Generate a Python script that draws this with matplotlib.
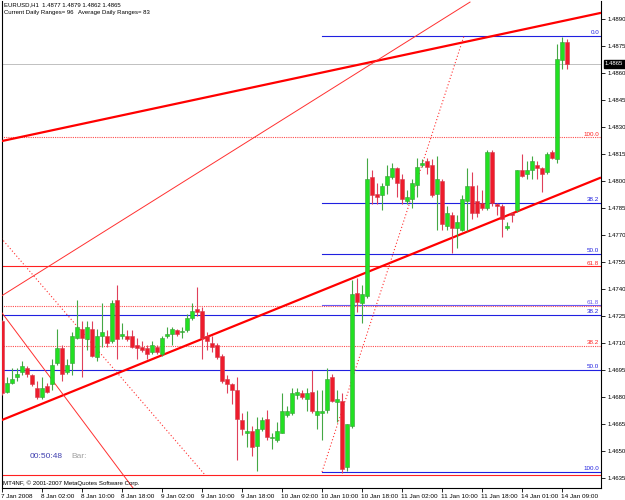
import matplotlib
matplotlib.use("Agg")
import matplotlib.pyplot as plt
import matplotlib.transforms as mtransforms
import numpy as np

# ---------------- data (EURUSD H1) ----------------
opens = [1.4722,1.4683,1.4688,1.4691,1.4694,1.4696,1.4692,1.4685,1.4680,1.4686,
         1.4687,1.4699,1.4707,1.4694,1.4699,1.4713,1.4718,1.4712,1.4718,1.4702,
         1.4714,1.4714,1.4711,1.4734,1.4714,1.4714,1.4714,1.4709,1.4708,1.4707,
         1.4705,1.4708,1.4704,1.4714,1.4715,1.4717,1.4716,1.4717,1.4724,1.4729,
         1.4728,1.4714,1.4710,1.4709,1.4703,1.4690,1.4687,1.4684,1.4667,1.4660,
         1.4661,1.4653,1.4662,1.4668,1.4657,1.4656,1.4660,1.4670,1.4671,1.4681,
         1.4682,1.4679,1.4683,1.4670,1.4671,1.4673,1.4691,1.4677,1.4678,1.4641,
         1.4664,1.4738,1.4732,1.4736,1.4802,1.4793,1.4792,1.4798,1.4802,1.4807,
         1.4801,1.4789,1.4790,1.4798,1.4809,1.4811,1.4809,1.4793,1.4800,1.4775,
         1.4781,1.4774,1.4773,1.4789,1.4797,1.4789,1.4788,1.4785,1.4816,1.4787,
         1.4786,1.4774,1.4782,1.4784,1.4806,1.4804,1.4806,1.4809,1.4807,1.4805,
         1.4816,1.4812,1.4867,1.4877]
highs = [1.4723,1.4691,1.4696,1.4696,1.4700,1.4697,1.4693,1.4689,1.4691,1.4688,
         1.4701,1.4718,1.4709,1.4701,1.4716,1.4734,1.4722,1.4722,1.4722,1.4718,
         1.4732,1.4717,1.4734,1.4742,1.4721,1.4717,1.4717,1.4713,1.4711,1.4709,
         1.4711,1.4709,1.4714,1.4719,1.4719,1.4718,1.4719,1.4726,1.4732,1.4741,
         1.4730,1.4716,1.4714,1.4710,1.4704,1.4692,1.4688,1.4691,1.4671,1.4672,
         1.4664,1.4669,1.4669,1.4673,1.4660,1.4666,1.4682,1.4675,1.4685,1.4685,
         1.4684,1.4685,1.4695,1.4684,1.4684,1.4696,1.4693,1.4684,1.4682,1.4665,
         1.4745,1.4746,1.4742,1.4813,1.4806,1.4799,1.4799,1.4809,1.4810,1.4808,
         1.4804,1.4795,1.4801,1.4813,1.4812,1.4813,1.4812,1.4814,1.4801,1.4786,
         1.4783,1.4781,1.4792,1.4807,1.4805,1.4798,1.4795,1.4817,1.4817,1.4788,
         1.4787,1.4777,1.4783,1.4806,1.4815,1.4811,1.4814,1.4811,1.4808,1.4816,
         1.4817,1.4876,1.4880,1.4879]
lows = [1.4681,1.4682,1.4687,1.4689,1.4692,1.4691,1.4686,1.4679,1.4679,1.4682,
        1.4684,1.4698,1.4689,1.4693,1.4692,1.4712,1.4691,1.4706,1.4702,1.4700,
        1.4708,1.4708,1.4710,1.4701,1.4712,1.4711,1.4707,1.4701,1.4705,1.4701,
        1.4704,1.4704,1.4703,1.4713,1.4709,1.4714,1.4713,1.4716,1.4723,1.4725,
        1.4701,1.4706,1.4705,1.4701,1.4688,1.4682,1.4676,1.4645,1.4659,1.4652,
        1.4647,1.4639,1.4661,1.4656,1.4651,1.4655,1.4660,1.4669,1.4670,1.4679,
        1.4679,1.4672,1.4671,1.4662,1.4656,1.4671,1.4677,1.4666,1.4638,1.4639,
        1.4663,1.4727,1.4721,1.4735,1.4787,1.4787,1.4784,1.4793,1.4801,1.4791,
        1.4787,1.4787,1.4785,1.4791,1.4808,1.4804,1.4791,1.4773,1.4773,1.4773,
        1.4760,1.4763,1.4772,1.4772,1.4779,1.4780,1.4784,1.4784,1.4786,1.4781,
        1.4769,1.4773,1.4777,1.4783,1.4802,1.4801,1.4801,1.4801,1.4794,1.4804,
        1.4812,1.4810,1.4862,1.4862]
closes = [1.4682,1.4688,1.4690,1.4693,1.4697,1.4693,1.4687,1.4680,1.4685,1.4683,
          1.4698,1.4707,1.4693,1.4698,1.4714,1.4719,1.4713,1.4719,1.4703,1.4714,
          1.4716,1.4710,1.4732,1.4712,1.4715,1.4712,1.4708,1.4707,1.4706,1.4704,
          1.4709,1.4705,1.4713,1.4715,1.4718,1.4715,1.4716,1.4724,1.4728,1.4727,
          1.4713,1.4711,1.4708,1.4702,1.4689,1.4687,1.4684,1.4668,1.4662,1.4661,
          1.4652,1.4662,1.4667,1.4658,1.4658,1.4661,1.4672,1.4672,1.4682,1.4683,
          1.4680,1.4682,1.4672,1.4672,1.4672,1.4690,1.4678,1.4679,1.4640,1.4665,
          1.4737,1.4733,1.4737,1.4801,1.4792,1.4791,1.4797,1.4803,1.4807,1.4799,
          1.4790,1.4791,1.4799,1.4808,1.4810,1.4808,1.4792,1.4801,1.4776,1.4782,
          1.4774,1.4777,1.4790,1.4797,1.4782,1.4782,1.4785,1.4816,1.4788,1.4786,
          1.4779,1.4775,1.4781,1.4806,1.4803,1.4806,1.4811,1.4807,1.4804,1.4815,
          1.4813,1.4868,1.4877,1.4865]

time_labels = ["7 Jan 2008", "8 Jan 02:00", "8 Jan 10:00", "8 Jan 18:00", "9 Jan 02:00",
               "9 Jan 10:00", "9 Jan 18:00", "10 Jan 02:00", "10 Jan 10:00", "10 Jan 18:00",
               "11 Jan 02:00", "11 Jan 10:00", "11 Jan 18:00", "14 Jan 01:00", "14 Jan 09:00"]
label_step = 8
price_ticks = [1.4635, 1.4650, 1.4665, 1.4680, 1.4695, 1.4710, 1.4725, 1.4740, 1.4755,
               1.4770, 1.4785, 1.4800, 1.4815, 1.4830, 1.4845, 1.4860, 1.4875, 1.4890]
current_price = 1.4865

# trend lines: ((bar, price), (bar, price))
thick_upper = ((0, 1.48222), (119.6, 1.48933))
thick_lower = ((0, 1.46672), (119.6, 1.48017))
thin_up = ((-0.4, 1.47356), (93.6, 1.48994))
thin_down = ((0, 1.47267), (26.2, 1.46294))
dotted_down = ((-10.0, 1.48000), (40.6, 1.46367))
dotted_up = ((64.0, 1.46383), (92.4, 1.48806))

# fibo level lines: (price, label, color, start_bar, style)
fib_levels = [
    (1.48806, "0.0", "#2020e0", 64, "-"),
    (1.48244, "100.0", "#ff2020", -1, ":"),
    (1.47880, "38.2", "#2020e0", 64, "-"),
    (1.47595, "50.0", "#2020e0", 64, "-"),
    (1.47526, "61.8", "#ff2020", -1, "-"),
    (1.47305, "", "#ff2020", -1, ":"),
    (1.47309, "61.8", "#6a5af0", 64, "-"),
    (1.47256, "38.2", "#2020e0", -1, "-"),
    (1.47084, "38.2", "#ff2020", -1, ":"),
    (1.46950, "50.0", "#2020e0", -1, "-"),
    (1.46367, "", "#ff2020", -1, "-"),
    (1.46383, "100.0", "#2020e0", 64, "-"),
    (1.46262, "38.2", "#2020e0", -1, "-"),
]

# ---------------- figure ----------------
W, H = 625, 500
plt.rcParams['font.family'] = ['Liberation Sans', 'DejaVu Sans']
fig = plt.figure(figsize=(W / 100, H / 100), dpi=100)
fig.patch.set_facecolor("white")

left_px, right_px, top_px, bot_px = 2, 601, 1, 488
ax = fig.add_axes([left_px / W, (H - bot_px) / H, (right_px - left_px) / W, (bot_px - top_px) / H])
ax.set_facecolor("white")

n = len(opens)
idx = np.arange(n)
x_max = (right_px - left_px) / 5.0
ax.set_xlim(0, x_max)
ax.set_ylim(1.46294, 1.49000)

# fibo horizontal lines
trans_lab = mtransforms.blended_transform_factory(ax.transAxes, ax.transData)
for price, lab, col, start, ls in fib_levels:
    xs = -1 if start < 0 else start
    if ls == ":":
        ax.plot([xs, x_max + 1], [price, price], color=col, lw=0.8, ls=(0, (1, 1)), alpha=0.8, zorder=1)
    else:
        ax.plot([xs, x_max + 1], [price, price], color=col, lw=0.8, zorder=1)
    if lab:
        ax.text(0.997, price + 0.00003, lab, transform=trans_lab, ha="right", va="bottom",
                fontsize=4.5, color=col, zorder=2, clip_on=True)

# current price line
ax.axhline(current_price, color="#c0c0c0", lw=0.7, zorder=1)

# trend lines
def tline(seg, **kw):
    (x0, y0), (x1, y1) = seg
    ax.plot([x0, x1], [y0, y1], **kw)

tline(thick_upper, color="#ff0000", lw=1.6, zorder=3)
tline(thick_lower, color="#ff0000", lw=1.6, zorder=3)
tline(thin_up, color="#ff3030", lw=0.7, zorder=3)
tline(thin_down, color="#ff3030", lw=0.7, zorder=3)
tline(dotted_down, color="#ff3030", lw=0.8, ls=(0, (1, 2)), zorder=3)
tline(dotted_up, color="#ff3030", lw=0.8, ls=(0, (1, 2)), zorder=3)

# candles
o = np.array(opens); h = np.array(highs); l = np.array(lows); c = np.array(closes)
up = c >= o
bull_face, bull_edge = "#22e022", "#3a9a3a"
bear_face, bear_edge = "#ee1c2c", "#d04050"
ax.vlines(idx[up], l[up], h[up], color="#44a844", lw=0.8, zorder=4)
ax.vlines(idx[~up], l[~up], h[~up], color="#e0405a", lw=0.8, zorder=4)
body_bottom = np.minimum(o, c)
body_h = np.maximum(np.abs(c - o), 0.00004)
ax.bar(idx[up], body_h[up], bottom=body_bottom[up], width=0.62,
       color=bull_face, edgecolor=bull_edge, linewidth=0.4, zorder=5)
ax.bar(idx[~up], body_h[~up], bottom=body_bottom[~up], width=0.62,
       color=bear_face, edgecolor=bear_edge, linewidth=0.4, zorder=5)

# axes styling
for s in ["left", "right", "bottom", "top"]:
    ax.spines[s].set_color("black")
    ax.spines[s].set_linewidth(0.8)
ax.spines["top"].set_visible(False)

ax.yaxis.tick_right()
ax.set_yticks(price_ticks)
ax.set_yticklabels([f"{p:.4f}" for p in price_ticks])
ax.tick_params(axis="y", which="both", length=3, width=0.6, pad=1.5, labelsize=4.3, direction="out")

xt = np.arange(len(time_labels)) * label_step
ax.set_xticks(xt)
ax.set_xticklabels(time_labels, ha="left")
ax.tick_params(axis="x", length=3, width=0.6, pad=1.5, labelsize=4.6, direction="out")
offset = mtransforms.ScaledTranslation(-1 / 100, 0, fig.dpi_scale_trans)
for t in ax.get_xticklabels():
    t.set_transform(t.get_transform() + offset)

# current price box
ax.text(1.0 + 4 / (right_px - left_px), current_price, f"{current_price:.4f}", transform=trans_lab,
        ha="left", va="center", fontsize=4.3, color="white", zorder=10,
        bbox=dict(boxstyle="square,pad=0.25", facecolor="black", edgecolor="black"), clip_on=False)

# texts
fig.text(4 / W, 1 - 2 / H, "EURUSD,H1  1.4877 1.4879 1.4862 1.4865", fontsize=4.3, va="top", ha="left")
fig.text(4 / W, 1 - 10 / H, "Current Daily Ranges= 96   Average Daily Ranges= 83", fontsize=4.3, va="top", ha="left")
fig.text(30 / W, 1 - 456 / H, "00:50:48", fontsize=6, va="center", ha="left", color="#4040b0")
fig.text(71 / W, 1 - 456 / H, "Bar:", fontsize=6, va="center", ha="left", color="#a0a0a0")
fig.text(3 / W, 1 - 483 / H, "MT4NF, \u00a9 2001-2007 MetaQuotes Software Corp.", fontsize=4.4, va="center", ha="left")

fig.savefig("out.png", dpi=100)
